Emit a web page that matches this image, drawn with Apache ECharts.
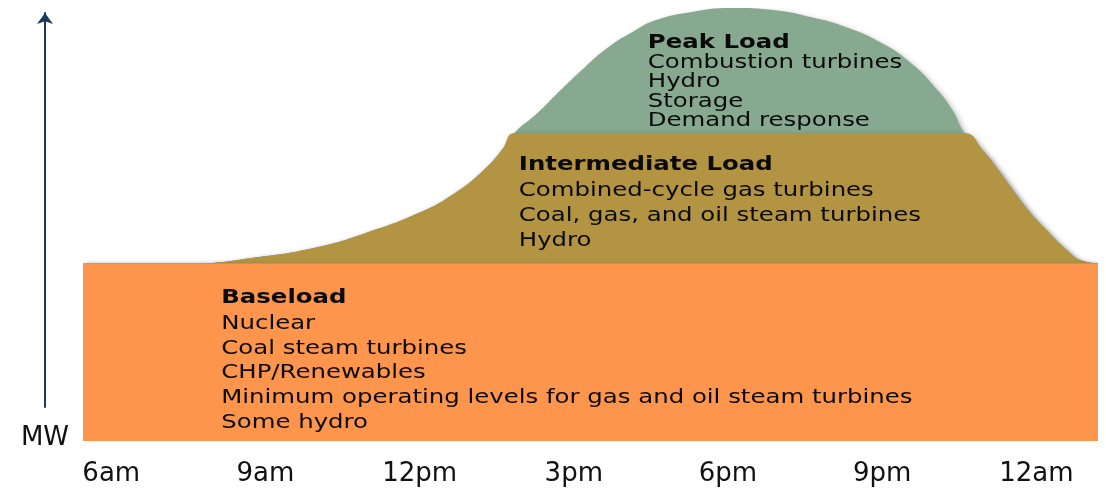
<!DOCTYPE html>
<html>
<head>
<meta charset="utf-8">
<script src="https://cdn.jsdelivr.net/npm/echarts@6/dist/echarts.min.js"></script>
<style>
  html, body { margin: 0; padding: 0; background: #fff; }
  #main { width: 1106px; height: 488px; }
</style>
</head>
<body>
<div id="main"></div>
<script>
// hour of day (6 = 6am, 24 = midnight) and load in % of the daily peak
var hours = [5.45, 7.50, 8.88, 10.02, 10.94, 11.99, 12.69, 13.25, 13.60, 13.84, 14.30, 14.75, 15.22, 15.68, 16.15, 16.60, 17.30, 18.09, 18.91, 19.61, 20.29, 20.99, 21.56, 22.02, 22.37, 22.61, 22.99, 23.29, 23.54, 23.87, 24.20, 24.55, 24.90, 25.20];
var totalLoad = [41, 41, 42.5, 44.8, 48.0, 52.7, 57.3, 62.6, 67.2, 71.1, 75.8, 81.1, 86.4, 91.0, 94.5, 97.2, 99.1, 100, 99.5, 97.9, 95.6, 91.9, 87.3, 81.8, 76.4, 71.1, 66.7, 62.1, 58.0, 52.9, 48.7, 44.6, 41.6, 41];
var intermediateLoad = [41, 41, 42.5, 44.8, 48.0, 52.7, 57.3, 62.6, 67.2, 71.1, 71.1, 71.1, 71.1, 71.1, 71.1, 71.1, 71.1, 71.1, 71.1, 71.1, 71.1, 71.1, 71.1, 71.1, 71.1, 71.1, 66.7, 62.1, 58.0, 52.9, 48.7, 44.6, 41.6, 41];
var baseHours = [5.45, 25.20];
var baseLoad = [41, 41];

var tickHours = [6, 9, 12, 15, 18, 21, 24];
var tickLabels = ['6am', '9am', '12pm', '3pm', '6pm', '9pm', '12am'];

// text blocks: anchor (hour, load) = top-left corner of the text
var peakText = ['Peak Load', 'Combustion turbines', 'Hydro', 'Storage', 'Demand response'];
var intermediateText = ['Intermediate Load', 'Combined-cycle gas turbines', 'Coal, gas, and oil steam turbines', 'Hydro'];
var baseText = ['Baseload', 'Nuclear', 'Coal steam turbines', 'CHP/Renewables', 'Minimum operating levels for gas and oil steam turbines', 'Some hydro'];
var peakAnchor = [16.44, 94.3];
var intermediateAnchor = [13.93, 66.7];
var baseAnchor = [8.14, 36.1];

var FONT = '"DejaVu Sans", sans-serif';
var ORANGE = '#FD964C', OLIVE = '#B29443', GREEN = '#86A990';

function pairs(xs, ys) {
  return xs.map(function (x, i) { return [x, ys[i]]; });
}

var dom = document.getElementById('main');
var myChart = echarts.init(dom);

var shadow = { shadowBlur: 6, shadowColor: 'rgba(0,0,0,0.35)', shadowOffsetX: 2, shadowOffsetY: 3 };

var option = {
  animation: false,
  grid: [
    { left: 83, right: 8, top: 8, bottom: 47 },
    { left: 45, top: 13, height: 394, width: 1 }
  ],
  xAxis: [{
    type: 'value', min: 5.45, max: 25.2,
    axisLine: { show: false }, axisTick: { show: false }, splitLine: { show: false },
    axisLabel: {
      customValues: tickHours,
      margin: 20,
      fontFamily: FONT, fontSize: 26, color: '#111',
      formatter: function (v) { return tickLabels[tickHours.indexOf(v)]; }
    }
  }, {
    type: 'value', gridIndex: 1, show: false
  }],
  yAxis: [{
    type: 'value', min: 0, max: 100, show: false
  }, {
    type: 'value', gridIndex: 1,
    axisLine: { show: true, symbol: ['none', 'arrow'], symbolSize: [12, 11], lineStyle: { color: '#1B3A5C', width: 2 } },
    axisTick: { show: false }, axisLabel: { show: false }, splitLine: { show: false },
    name: 'MW', nameLocation: 'start', nameGap: 18,
    nameTextStyle: { fontFamily: FONT, fontSize: 26, color: '#111' }
  }],
  series: [{
    name: 'Peak Load', type: 'line', data: pairs(hours, totalLoad),
    smooth: 0.5, symbol: 'none', lineStyle: { width: 0 },
    areaStyle: Object.assign({ color: GREEN, opacity: 1 }, shadow)
  }, {
    name: 'Intermediate Load', type: 'line', data: pairs(hours, intermediateLoad),
    smooth: 0.5, symbol: 'none', lineStyle: { width: 0 },
    areaStyle: Object.assign({ color: OLIVE, opacity: 1 }, shadow)
  }, {
    name: 'Baseload', type: 'line', data: pairs(baseHours, baseLoad),
    symbol: 'none', lineStyle: { width: 0 },
    areaStyle: Object.assign({ color: ORANGE, opacity: 1 }, shadow)
  }]
};
myChart.setOption(option);

function textBlock(lines, anchor, titleGap, lineGap) {
  var p = myChart.convertToPixel({ gridIndex: 0 }, anchor);
  var text = lines.map(function (l, i) { return (i === 0 ? '{t|' : '{b|') + l + '}'; }).join('\n');
  return {
    type: 'text', x: p[0], y: p[1], scaleX: 1.22, z: 100,
    style: {
      text: text, verticalAlign: 'top', align: 'left',
      rich: {
        t: { fontFamily: FONT, fontSize: 20, fontWeight: 'bold', fill: '#0a0a0a', lineHeight: titleGap },
        b: { fontFamily: FONT, fontSize: 20, fill: '#0a0a0a', lineHeight: lineGap }
      }
    }
  };
}

myChart.setOption({
  graphic: [
    textBlock(peakText, peakAnchor, 20, 19.6),
    textBlock(intermediateText, intermediateAnchor, 26, 25),
    textBlock(baseText, baseAnchor, 27, 24.6)
  ]
});
</script>
</body>
</html>
